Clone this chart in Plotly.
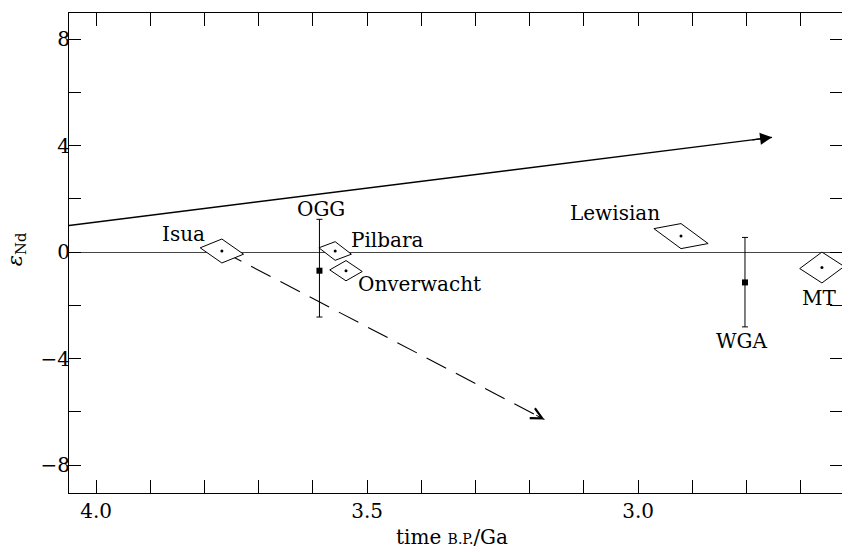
import plotly.graph_objects as go

# ---------------- data ----------------
# samples shown as parallelogram error boxes
box_names = ["Isua", "Pilbara", "Onverwacht", "Lewisian", "MT"]
box_age = [3.768, 3.559, 3.539, 2.921, 2.661]          # Ga
box_eps = [0.04, 0.04, -0.70, 0.60, -0.58]              # eps Nd
box_age_err = [0.040, 0.030, 0.030, 0.050, 0.041]
box_eps_err = [0.45, 0.35, 0.38, 0.47, 0.58]
box_eps_skew = [0.12, 0.12, 0.03, 0.28, -0.04]

# samples shown as error bars
bar_names = ["OGG", "WGA"]
bar_age = [3.588, 2.803]
bar_eps = [-0.70, -1.14]
bar_err_plus = [1.93, 1.69]
bar_err_minus = [1.74, 1.67]

# depleted mantle evolution (solid arrow)
mantle_age = [4.05, 2.753]
mantle_eps = [1.00, 4.31]

# Isua crustal evolution (dashed arrow)
trend_age = [3.768, 3.173]
trend_eps = [0.04, -6.29]

x_tick_vals = [4.0, 3.9, 3.8, 3.7, 3.6, 3.5, 3.4, 3.3, 3.2, 3.1, 3.0, 2.9, 2.8, 2.7]
x_tick_labels = ["4.0", "", "", "", "", "3.5", "", "", "", "", "3.0", "", "", ""]
y_tick_vals = [-8, -6, -4, -2, 0, 2, 4, 6, 8]
y_tick_labels = ["\u22128", "", "\u22124", "", "0", "", "4", "", "8"]

# ---------------- layout helpers (pixel offsets of labels) ----------------
box_label_shift = {"Isua": (-38, 17), "Pilbara": (52, 11), "Onverwacht": (73, -13),
                   "Lewisian": (-66, 23), "MT": (-3, -30)}
bar_label_shift = {"OGG": (2, 10, "top"), "WGA": (-3, -14, "bottom")}

FONT = "DejaVu Serif"
FS = 20
fig = go.Figure()

# dashed trend (drawn first so the Isua box covers its start)
fig.add_trace(go.Scatter(x=trend_age, y=trend_eps, mode="lines",
                         line=dict(color="black", width=1.1, dash="22px,11px"),
                         hoverinfo="skip", showlegend=False))

# solid mantle line
fig.add_trace(go.Scatter(x=mantle_age, y=mantle_eps, mode="lines",
                         line=dict(color="black", width=1.4),
                         hoverinfo="skip", showlegend=False))

# parallelograms
for n, a, e, da, de, sk in zip(box_names, box_age, box_eps, box_age_err, box_eps_err, box_eps_skew):
    xs = [a + da, a, a - da, a, a + da]
    ys = [e + sk, e + de, e - sk, e - de, e + sk]
    fig.add_trace(go.Scatter(x=xs, y=ys, mode="lines", fill="toself", fillcolor="white",
                             line=dict(color="black", width=1), hoverinfo="skip", showlegend=False))
fig.add_trace(go.Scatter(x=box_age, y=box_eps, mode="markers",
                         marker=dict(color="black", size=3), hoverinfo="skip", showlegend=False))

# error bars
fig.add_trace(go.Scatter(x=bar_age, y=bar_eps, mode="markers",
                         marker=dict(color="black", size=6, symbol="square"),
                         error_y=dict(type="data", symmetric=False, array=bar_err_plus,
                                      arrayminus=bar_err_minus, color="black", thickness=1, width=3),
                         hoverinfo="skip", showlegend=False))

annotations = []
# labels
for n, a, e in zip(box_names, box_age, box_eps):
    dx, dy = box_label_shift[n]
    annotations.append(dict(x=a, y=e, xref="x", yref="y", text=n, showarrow=False,
                            xanchor="center", yanchor="middle",
                            xshift=dx, yshift=dy, font=dict(family=FONT, size=FS, color="black")))
for n, a, e, p, m in zip(bar_names, bar_age, bar_eps, bar_err_plus, bar_err_minus):
    dx, dy, end = bar_label_shift[n]
    yy = e + p if end == "top" else e - m
    annotations.append(dict(x=a, y=yy, xref="x", yref="y", text=n, showarrow=False,
                            xanchor="center", yanchor="middle",
                            xshift=dx, yshift=dy, font=dict(family=FONT, size=FS, color="black")))

# arrowheads
def head(ages, epss, style, size, width):
    ta, te = ages[-1], epss[-1]
    sa = ta + 0.03 * (ages[0] - ta)
    se = te + 0.03 * (epss[0] - te)
    return dict(x=ta, y=te, ax=sa, ay=se, xref="x", yref="y", axref="x", ayref="y",
                text="", showarrow=True, arrowhead=style, arrowsize=size,
                arrowwidth=width, arrowcolor="black", standoff=0)

annotations.append(head(mantle_age, mantle_eps, 2, 2.0, 1.2))
annotations.append(head(trend_age, trend_eps, 5, 2.2, 1.0))

# axis titles
annotations.append(dict(xref="paper", yref="paper", x=0, y=0.508, xshift=-53,
                        xanchor="center", yanchor="middle",
                        text="<i>\u03b5</i><sub>Nd</sub>", textangle=-90, showarrow=False,
                        font=dict(family=FONT, size=FS + 1, color="black")))
annotations.append(dict(xref="paper", yref="paper", x=0.4955, y=0, yshift=-44,
                        xanchor="center", yanchor="middle",
                        text="time <span style='font-size:14px'>B.P.</span>/Ga", showarrow=False,
                        font=dict(family=FONT, size=FS, color="black")))

tickfont = dict(family=FONT, size=FS, color="black")
fig.update_layout(
    width=842, height=549,
    margin=dict(l=69, r=0, t=13, b=56),
    paper_bgcolor="white", plot_bgcolor="white",
    annotations=annotations,
    xaxis=dict(range=[4.05, 2.624], tickmode="array", tickvals=x_tick_vals, ticktext=x_tick_labels,
               ticks="inside", ticklen=13, tickwidth=1, tickcolor="black",
               showline=True, linecolor="black", linewidth=1, mirror="allticks",
               showgrid=False, zeroline=False, tickfont=tickfont),
    yaxis=dict(range=[-9.05, 8.98], tickmode="array", tickvals=y_tick_vals, ticktext=y_tick_labels,
               ticks="inside", ticklen=12, tickwidth=1, tickcolor="black",
               showline=True, linecolor="black", linewidth=1, mirror="allticks",
               showgrid=False, zeroline=True, zerolinecolor="#444", zerolinewidth=1,
               tickfont=tickfont),
)
try:
    fig.update_yaxes(ticklabelstandoff=-6)
except Exception:
    pass

fig.write_html("out.html", config={"displayModeBar": False},
               post_script="document.body.style.margin='0';document.body.style.overflow='hidden';")
